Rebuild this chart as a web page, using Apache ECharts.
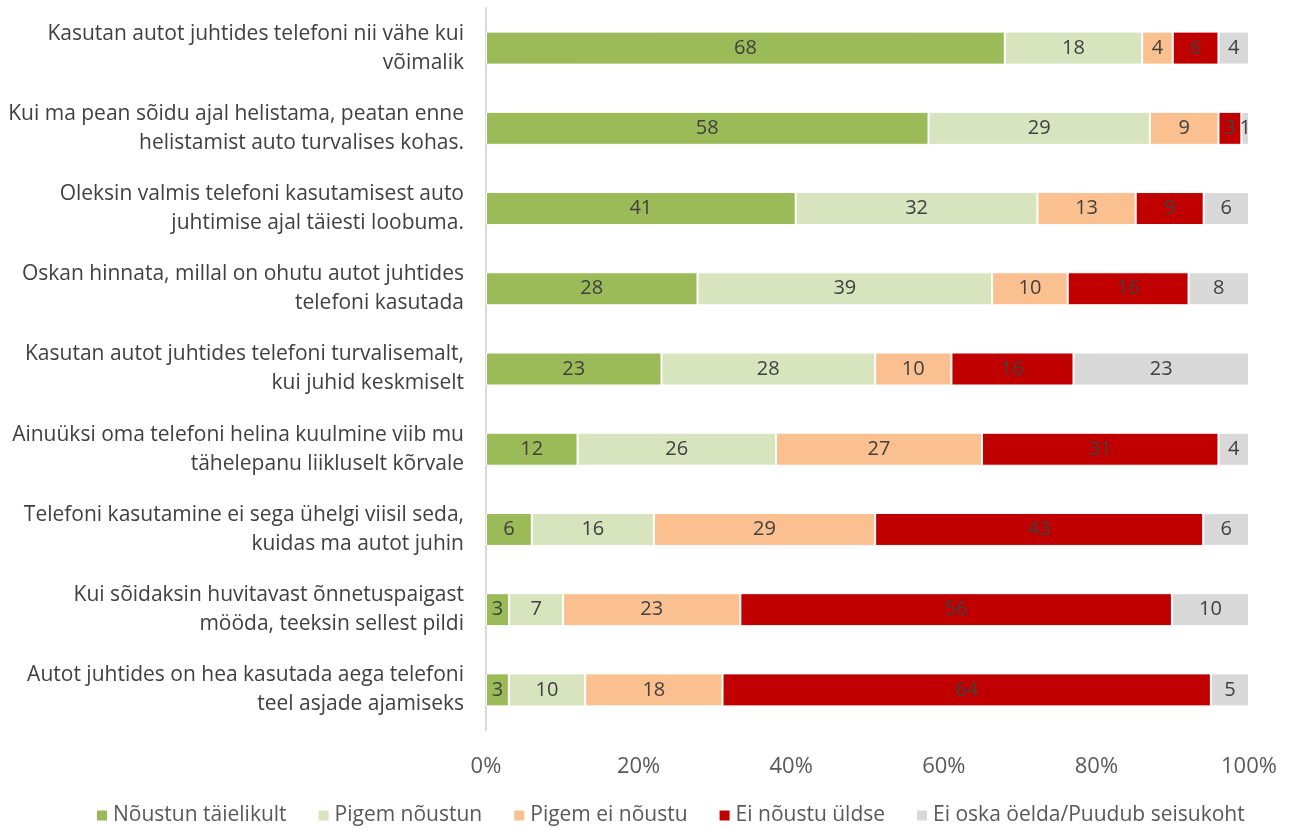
<!DOCTYPE html>
<html><head><meta charset="utf-8">
<script src="https://cdn.jsdelivr.net/npm/echarts@6/dist/echarts.min.js"></script>
<style>html,body{margin:0;padding:0;background:#fff}#c{width:1295px;height:832px}</style>
</head><body><div id="c"></div>
<script>
const categories = [
  "Kasutan autot juhtides telefoni nii vähe kui\nvõimalik",
  "Kui ma pean sõidu ajal helistama, peatan enne\nhelistamist auto turvalises kohas.",
  "Oleksin valmis telefoni kasutamisest auto\njuhtimise ajal täiesti loobuma.",
  "Oskan hinnata, millal on ohutu autot juhtides\ntelefoni kasutada",
  "Kasutan autot juhtides telefoni turvalisemalt,\nkui juhid keskmiselt",
  "Ainuüksi oma telefoni helina kuulmine viib mu\ntähelepanu liikluselt kõrvale",
  "Telefoni kasutamine ei sega ühelgi viisil seda,\nkuidas ma autot juhin",
  "Kui sõidaksin huvitavast õnnetuspaigast\nmööda, teeksin sellest pildi",
  "Autot juhtides on hea kasutada aega telefoni\nteel asjade ajamiseks"
];
const seriesNames = ["Nõustun täielikult","Pigem nõustun","Pigem ei nõustu","Ei nõustu üldse","Ei oska öelda/Puudub seisukoht"];
const fullyAgree    = [68, 58, 41, 28, 23, 12, 6, 3, 3];
const ratherAgree   = [18, 29, 32, 39, 28, 26, 16, 7, 10];
const ratherDisagree= [4, 9, 13, 10, 10, 27, 29, 23, 18];
const disagree      = [6, 3, 9, 16, 16, 31, 43, 56, 64];
const dontKnow      = [4, 1, 6, 8, 23, 4, 6, 10, 5];
const xTicks = ["0%","20%","40%","60%","80%","100%"];

const raw = [fullyAgree, ratherAgree, ratherDisagree, disagree, dontKnow];
const colors = ["#9BBB59","#D7E4BD","#FAC090","#C00000","#D9D9D9"];
const sums = categories.map((_, i) => raw.reduce((s, a) => s + a[i], 0));
const FONT = "Open Sans";

const chart = echarts.init(document.getElementById('c'));
chart.setOption({
  animation: false,
  textStyle: { fontFamily: FONT },
  grid: { left: 486, right: 46, top: 8, height: 722 },
  legend: {
    bottom: 1, left: 90, itemWidth: 12, itemHeight: 12, itemGap: 30,
    icon: 'rect',
    textStyle: { fontFamily: FONT, fontSize: 21, color: '#595959' },
    data: seriesNames
  },
  xAxis: {
    type: 'value', min: 0, max: 100, interval: 20,
    axisLine: { show: false }, axisTick: { show: false }, splitLine: { show: false },
    axisLabel: { fontSize: 22, color: '#595959', margin: 26,
      formatter: (v) => xTicks[Math.round(v / 20)] }
  },
  yAxis: {
    type: 'category', inverse: true, data: categories,
    axisLine: { show: true, lineStyle: { color: '#D9D9D9', width: 2 } },
    axisTick: { show: false },
    axisLabel: { fontSize: 21, color: '#404040', margin: 22, align: 'right', lineHeight: 29 }
  },
  series: raw.map((arr, k) => ({
    name: seriesNames[k], type: 'bar', stack: 'total', barWidth: 33,
    itemStyle: { color: colors[k], borderColor: '#fff', borderWidth: 1 },
    label: { show: true, position: 'inside', fontSize: 20, color: '#404040', fontFamily: FONT,
      formatter: (p) => String(arr[p.dataIndex]) },
    data: arr.map((v, i) => v / sums[i] * 100)
  }))
});
</script></body></html>
